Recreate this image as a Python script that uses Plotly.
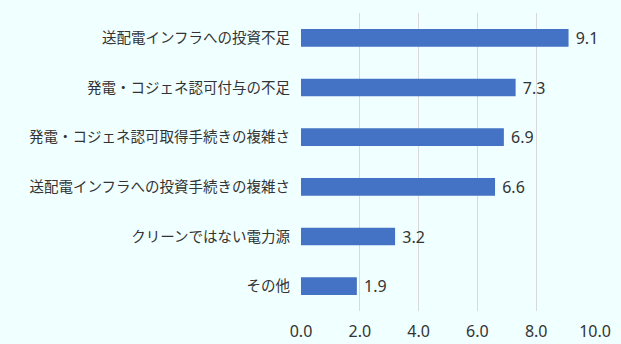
import plotly.graph_objects as go

categories = ["送配電インフラへの投資不足", "発電・コジェネ認可付与の不足", "発電・コジェネ認可取得手続きの複雑さ",
              "送配電インフラへの投資手続きの複雑さ", "クリーンではない電力源", "その他"]
values = [9.1, 7.3, 6.9, 6.6, 3.2, 1.9]
tick_vals = [0, 2, 4, 6, 8, 10]
tick_text = ["0.0", "2.0", "4.0", "6.0", "8.0", "10.0"]

fig = go.Figure(go.Bar(
    y=categories, x=values, orientation="h",
    marker=dict(color="#4472C4", line=dict(width=0)),
    width=0.355,
    text=[" " + f"{v:.1f}" for v in values], textposition="outside",
    constraintext="none",
    textfont=dict(size=16, color="#333333", family="Noto Sans"),
    cliponaxis=False,
))
fig.update_layout(
    width=621, height=344,
    margin=dict(l=301, r=26, t=13, b=33, autoexpand=False),
    paper_bgcolor="#F0FFFF", plot_bgcolor="#F0FFFF",
    font=dict(family="Noto Sans CJK JP", size=13, color="#404040"),
    showlegend=False,
)
fig.update_xaxes(range=[0, 10], tickvals=tick_vals, ticktext=tick_text, showgrid=True,
                 gridcolor="#D9D9D9", gridwidth=1, zeroline=False, showline=False,
                 tickfont=dict(size=16, color="#333333", family="Noto Sans"), ticks="",
                 ticklabelstandoff=9, automargin=False)
fig.update_yaxes(categoryorder="array", categoryarray=categories[::-1], autorange=True,
                 showgrid=False, zeroline=False, showline=False, ticks="",
                 tickfont=dict(size=14.5, color="#333333"), ticklabelstandoff=10,
                 automargin=False)
fig.write_html("out.html")
